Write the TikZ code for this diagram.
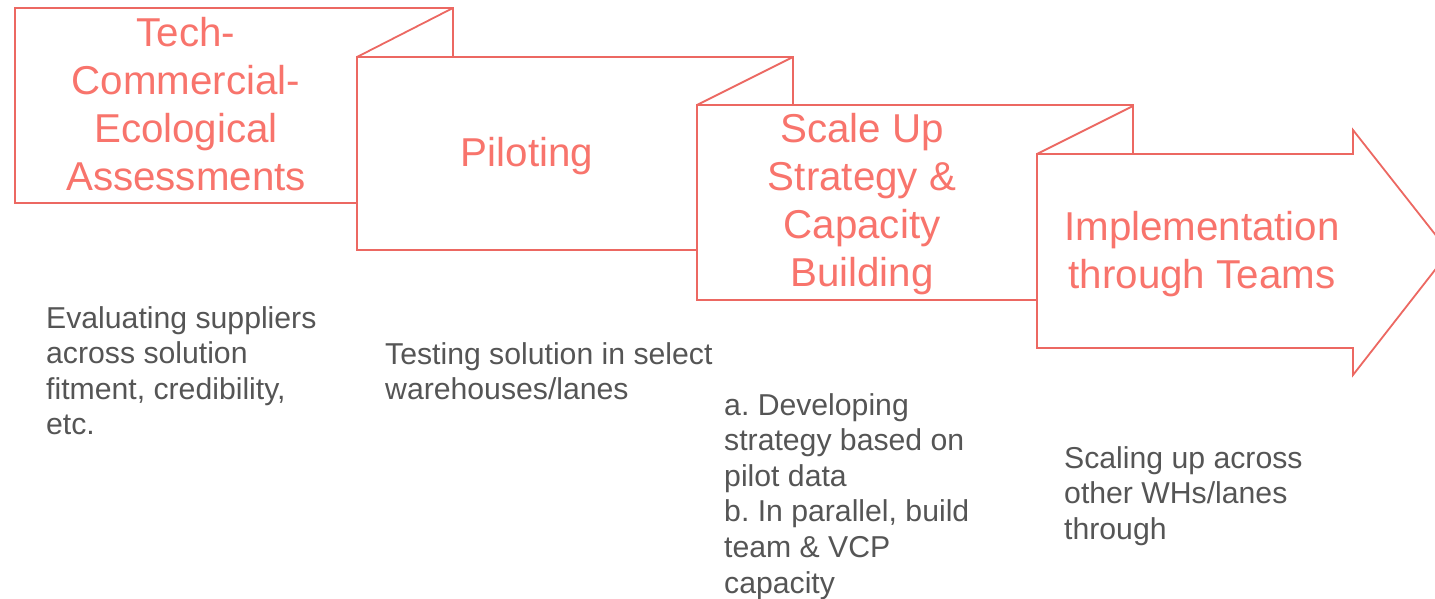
\documentclass[tikz,border=0pt]{standalone}
\usepackage{fontspec}
\setmainfont{Liberation Sans}
\frenchspacing
\definecolor{salmonline}{RGB}{236,104,98}
\definecolor{salmontext}{RGB}{248,116,108}
\definecolor{bodygray}{RGB}{85,85,85}
\begin{document}
\begin{tikzpicture}[x=1pt,y=-1pt,
  shapeline/.style={draw=salmonline, line width=1.8pt, fill=white, line join=miter},
  foldline/.style={draw=salmonline, line width=1.8pt},
  titletext/.style={text=salmontext, font=\fontsize{40.3}{48}\selectfont, align=center, inner sep=0pt, anchor=north},
  bodytext/.style={text=bodygray, font=\fontsize{30.2}{35.6}\selectfont, align=left, inner sep=0pt, anchor=north west}]
\useasboundingbox (0,0) rectangle (1435,599);
\begin{scope}
\clip (0,0) rectangle (1435,599);
% stage 1
\draw[shapeline] (15,8) rectangle (453,203);
% stage 2
\draw[shapeline] (357,57) rectangle (793,250);
\draw[foldline] (357,57) -- (453,8);
% stage 3
\draw[shapeline] (697,105) rectangle (1133,300);
\draw[foldline] (697,105) -- (793,57);
% stage 4 (arrow)
\draw[shapeline] (1037,154) -- (1353,154) -- (1353,130) -- (1449,252) -- (1353,375) -- (1353,348) -- (1037,348) -- cycle;
\draw[foldline] (1037,154) -- (1133,106);

% titles
\node[titletext] (t1) at (186,17) {Tech-\\Commercial-\\Ecological\\Assessments};
\node[titletext, anchor=base] (t2) at (527,167) {Piloting};
\node[titletext] (t3) at (862,113.5) {Scale Up\\Strategy \&\\Capacity\\Building};
\node[titletext] (t4) at (1202,211) {Implementation\\through Teams};

% descriptions
\node[bodytext] (d1) at (46,306) {Evaluating suppliers\\across solution\\fitment, credibility,\\etc.};
\node[bodytext] (d2) at (385,342) {Testing solution in select\\warehouses/lanes};
\node[bodytext] (d3) at (724,393) {a. Developing\\strategy based on\\pilot data\\b. In parallel, build\\team \& VCP\\capacity};
\node[bodytext] (d4) at (1064,446) {Scaling up across\\other WHs/lanes\\through};
\end{scope}
\end{tikzpicture}
\end{document}
